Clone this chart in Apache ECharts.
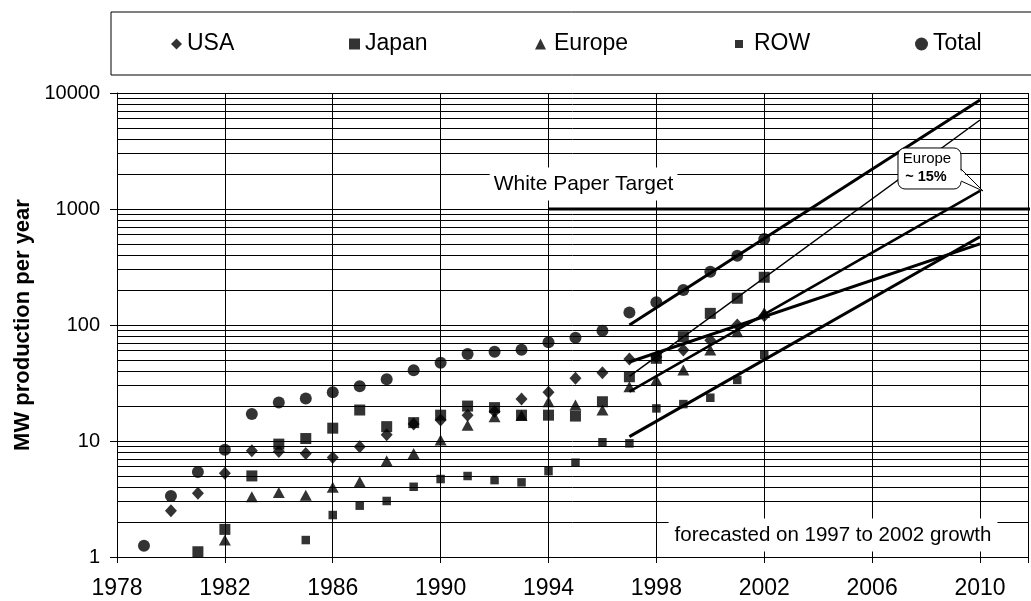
<!DOCTYPE html>
<html><head><meta charset="utf-8">
<script src="https://cdn.jsdelivr.net/npm/echarts@6/dist/echarts.min.js"></script>
<style>html,body{margin:0;padding:0;background:#fff}#c{width:1031px;height:601px}</style>
</head><body><div id="c"></div>
<script>
// ---- data (MW production per year) ----
const years  = [1979,1980,1981,1982,1983,1984,1985,1986,1987,1988,1989,1990,1991,1992,1993,1994,1995,1996,1997,1998,1999,2000,2001,2002];
const usa    = [null,2.5,3.54,5.27,8.26,8.1,7.8,7.2,8.9,11.3,14,15.2,16.7,18,23,26.3,34.7,38.8,51,53,60.9,74,100,120];
const japan  = [null,null,1.11,1.73,5.0,9.4,10.5,12.9,18.5,13.3,14.4,16.7,20,19.4,16.7,16.7,16.4,21.8,35.8,51.6,79.3,126,170,258];
const europe = [null,null,null,1.4,3.3,3.6,3.4,4.0,4.46,6.76,7.8,10.2,13.7,16.2,16.6,21.8,20.4,18.5,29.4,33.6,41,61,87.6,128];
const row    = [null,null,null,null,null,null,1.4,2.3,2.77,3.04,4.03,4.7,4.99,4.6,4.4,5.5,6.5,9.75,9.55,19.1,20.8,23.6,33.6,55];
const total  = [1.25,3.36,5.4,8.4,17.1,21.5,23.2,26.3,29.6,34,40.7,47.3,56.2,58.9,61.2,71,77.7,89.3,128,157,200,288,396,550];

// forecast lines (1997 -> 2010)
const trendTotal  = [[1997,100],[2010,8700]];
const trendJapan  = [[1997,36],[2010,5850]];
const trendEurope = [[1997,26.6],[2010,1430]];
const trendUSA    = [[1997,48],[2010,500]];
const trendROW    = [[1997,10.9],[2010,576]];

// White Paper target line
const whitePaper = [[1994,1000],[2012,1000]];

// axis ticks
const xTicks = [1978,1982,1986,1990,1994,1998,2002,2006,2010];
const yTicks = [1,10,100,1000,10000];
const minorGrid = [2,3,4,5,6,7,8,9,20,30,40,50,60,70,80,90,200,300,400,500,600,700,800,900,2000,3000,4000,5000,6000,7000,8000,9000];

// annotation texts and anchors (data coordinates)
const noteWhitePaper = {text:'White Paper Target', at:[1995.3,1643]};
const noteForecast   = {text:'forecasted on 1997 to 2002 growth', at:[2004.55,1.547]};
const noteEurope     = ['Europe','~ 15%'];

const pairs = arr => years.map((y,i)=>[y,arr[i]]).filter(p=>p[1]!=null);
const FONT = 'Liberation Sans, Arial, sans-serif';

const chart = echarts.init(document.getElementById('c'), null, {renderer:'canvas'});

function legendFor(name, icon, size, left, padLeft){
  return {
    data:[{name:name, icon:icon}], left:left, top:32, padding:0,
    itemWidth:size, itemHeight:size, selectedMode:false,
    itemStyle:{color:'#000'},
    textStyle:{fontFamily:FONT, fontSize:23, lineHeight:24, color:'#000', padding:[0,0,0,padLeft]}
  };
}

const option = {
  animation:false,
  backgroundColor:'#fff',
  grid:{left:117, right:0, top:93, bottom:44, containLabel:false},
  legend:[
    legendFor('USA','diamond',11,171,0),
    legendFor('Japan','rect',11,349,0),
    legendFor('Europe','triangle',11,535,3),
    legendFor('ROW','rect',8,735,6),
    legendFor('Total','circle',13,915,0)
  ],
  xAxis:{
    type:'value', min:1978, max:2011.78, interval:4,
    axisLine:{show:true, lineStyle:{color:'#000', width:1}},
    axisTick:{show:true, inside:false, length:6, lineStyle:{color:'#000'}},
    splitLine:{show:true, lineStyle:{color:'#000', width:1}},
    axisLabel:{fontFamily:FONT, fontSize:23, color:'#000', margin:20,
      formatter:v => xTicks.indexOf(v) >= 0 ? String(v) : ''}
  },
  yAxis:{
    type:'log', logBase:10, min:1, max:10000, splitNumber:4,
    name:'MW production per year', nameLocation:'middle', nameGap:70,
    nameTextStyle:{fontFamily:FONT, fontSize:22, fontWeight:'bold', color:'#000'},
    axisLine:{show:true, lineStyle:{color:'#000', width:1}},
    axisTick:{show:true, inside:false, length:7, lineStyle:{color:'#000'}},
    splitLine:{show:true, lineStyle:{color:'#000', width:1}},
    axisLabel:{fontFamily:FONT, fontSize:20, color:'#000', margin:17,
      formatter:v => { const r = Math.round(v); return yTicks.indexOf(r) >= 0 ? String(r) : ''; }}
  },
  series:[
    {
      name:'White Paper', type:'line', data:whitePaper, symbol:'none', silent:true, z:2,
      lineStyle:{color:'#000', width:3},
      markLine:{
        silent:true, z:1, symbol:['none','none'], label:{show:false},
        lineStyle:{color:'#000', width:1, type:'solid'},
        data:minorGrid.map(v=>({yAxis:v}))
      },
      markPoint:{
        silent:true, symbol:'rect', symbolSize:0,
        label:{show:true, position:'inside', color:'#000', fontFamily:FONT, backgroundColor:'#fff'},
        data:[
          {coord:noteWhitePaper.at, value:0, label:{formatter:noteWhitePaper.text, fontSize:21, padding:[6,4]}},
          {coord:noteForecast.at, value:0, label:{formatter:noteForecast.text, fontSize:20.5, padding:[6,6]}}
        ]
      }
    },
    {name:'Total trend', type:'line', data:trendTotal, symbol:'none', silent:true, lineStyle:{color:'#000', width:3}},
    {name:'Japan trend', type:'line', data:trendJapan, symbol:'none', silent:true, lineStyle:{color:'#000', width:1.5}},
    {name:'Europe trend', type:'line', data:trendEurope, symbol:'none', silent:true, lineStyle:{color:'#000', width:2.6}},
    {name:'USA trend', type:'line', data:trendUSA, symbol:'none', silent:true, lineStyle:{color:'#000', width:3}},
    {name:'ROW trend', type:'line', data:trendROW, symbol:'none', silent:true, lineStyle:{color:'#000', width:3}},
    {name:'USA', type:'scatter', data:pairs(usa), symbol:'diamond', symbolSize:[12,13], itemStyle:{color:'#000'}, z:3},
    {name:'Japan', type:'scatter', data:pairs(japan), symbol:'rect', symbolSize:11, itemStyle:{color:'#000'}, z:3},
    {name:'Europe', type:'scatter', data:pairs(europe), symbol:'triangle', symbolSize:[12,11], itemStyle:{color:'#000'}, z:3},
    {name:'ROW', type:'scatter', data:pairs(row), symbol:'rect', symbolSize:8.5, itemStyle:{color:'#000'}, z:3},
    {name:'Total', type:'scatter', data:pairs(total), symbol:'circle', symbolSize:12, itemStyle:{color:'#000'}, z:3}
  ]
};
chart.setOption(option);

// legend frame and Europe callout (anchored on the Europe forecast end point)
const tip = chart.convertToPixel({gridIndex:0}, trendEurope[1]);
const tx = tip[0] + 3, ty = tip[1];
const bx = tx - 87, by = ty - 43;
chart.setOption({
  graphic:[
    {type:'rect', z:100, silent:true, shape:{x:111, y:12, width:1000, height:63},
     style:{fill:'none', stroke:'#000', lineWidth:1}},
    {type:'rect', z:100, silent:true, shape:{x:bx+2, y:by, width:63, height:41, r:7},
     style:{fill:'#fff', stroke:'#000', lineWidth:1}},
    {type:'polygon', z:101, silent:true, shape:{points:[[bx+63,by+21],[tx,ty],[bx+63,by+33]]},
     style:{fill:'#fff', stroke:null}},
    {type:'polyline', z:102, silent:true, shape:{points:[[bx+65,by+21],[tx,ty],[bx+65,by+33]]},
     style:{fill:null, stroke:'#000', lineWidth:1}},
    {type:'text', z:103, silent:true, x:bx+31, y:by+11,
     style:{text:noteEurope[0], font:'15px ' + FONT, fill:'#000', align:'center', verticalAlign:'middle'}},
    {type:'text', z:103, silent:true, x:bx+30, y:by+29,
     style:{text:noteEurope[1], font:'bold 14.5px ' + FONT, fill:'#000', align:'center', verticalAlign:'middle'}}
  ]
});
</script>
</body></html>
